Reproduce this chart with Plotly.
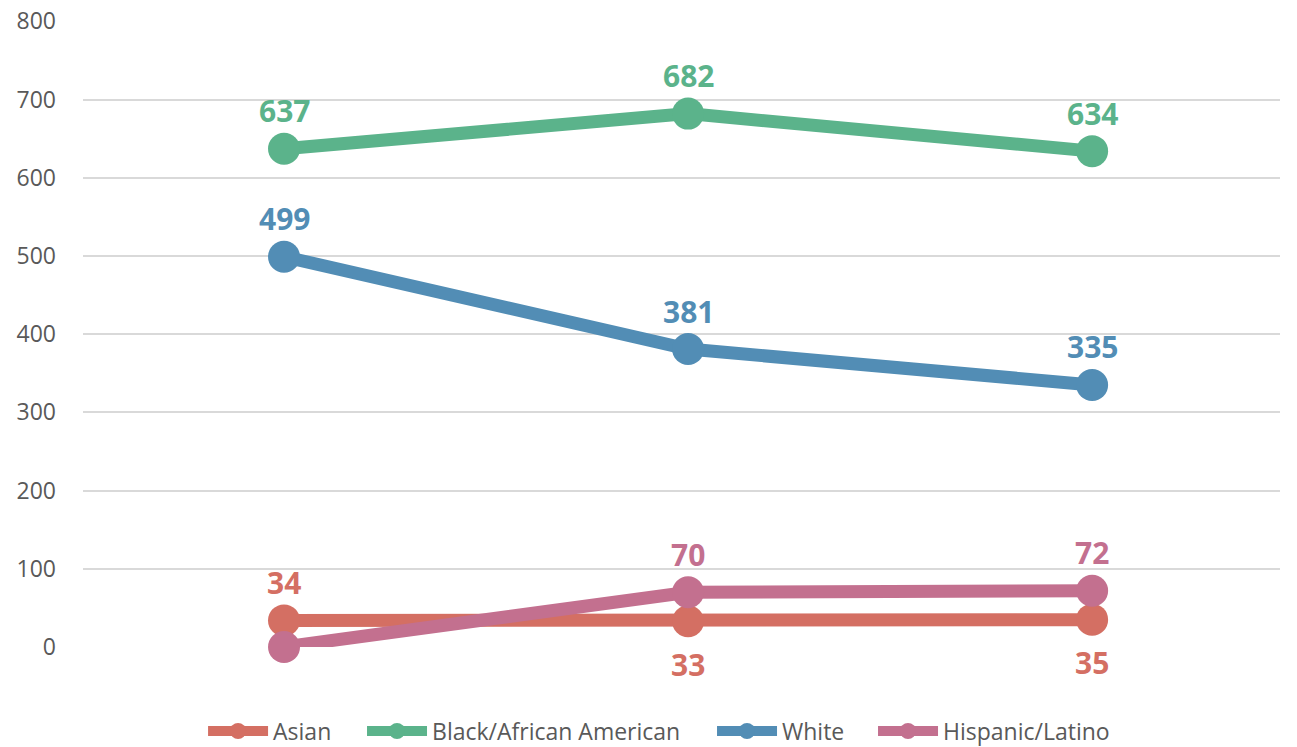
import plotly.graph_objects as go

categories = ["A", "B", "C"]
asian = [34, 33, 35]
black = [637, 682, 634]
white = [499, 381, 335]
hispanic = [0, 70, 72]
hispanic_labels = ["", "70", "72"]

series = [
    ("Asian", asian, "#D46F63", [str(v) for v in asian], ["top", "bottom", "bottom"]),
    ("Black/African American", black, "#5BB38B", [str(v) for v in black], ["top"] * 3),
    ("White", white, "#528DB5", [str(v) for v in white], ["top"] * 3),
    ("Hispanic/Latino", hispanic, "#C3708F", hispanic_labels, ["top"] * 3),
]
legend_ids = ["legend", "legend2", "legend3", "legend4"]
legend_x = [0.1003, 0.2331, 0.5255, 0.6600]

fig = go.Figure()
xs = [0, 1, 2]
for (name, vals, color, labels, pos), lid in zip(series, legend_ids):
    fig.add_trace(go.Scatter(
        x=xs, y=vals, name=name, mode="lines+markers",
        line=dict(color=color, width=13),
        marker=dict(color=color, size=32),
        cliponaxis=False, legend=lid,
    ))
    for xv, yv, lab, p in zip(xs, vals, labels, pos):
        if not lab:
            continue
        fig.add_annotation(
            x=xv, y=yv, text=lab, showarrow=False,
            yshift=38 if p == "top" else -43,
            font=dict(family="Open Sans", size=30, color=color, weight="bold"),
        )

legend_style = dict(orientation="h", xanchor="left", y=-0.1325, yanchor="middle",
                    font=dict(size=23, color="#595959"), itemwidth=60,
                    bgcolor="rgba(0,0,0,0)")
layout_legends = {lid: dict(x=lx, **legend_style) for lid, lx in zip(legend_ids, legend_x)}

fig.update_layout(
    width=1297, height=763,
    margin=dict(l=83, r=17, t=21, b=115),
    plot_bgcolor="white", paper_bgcolor="white",
    font=dict(family="Open Sans", color="#595959"),
    showlegend=True,
    xaxis=dict(range=[-0.4975, 2.465], showticklabels=False, showgrid=False, zeroline=False,
               tickvals=[0, 1, 2], ticktext=categories, automargin=False),
    yaxis=dict(range=[0, 800.4], tickvals=[0, 100, 200, 300, 400, 500, 600, 700, 800],
               showgrid=True, gridcolor="#D9D9D9", gridwidth=2,
               zeroline=False, tickfont=dict(size=23, color="#595959"), ticks="",
               ticklabelstandoff=26, automargin=False, ticklabeloverflow="allow"),
    **layout_legends,
)
fig.write_html(
    "out.html",
    config={"displayModeBar": False},
    post_script="document.body.style.margin='0';document.body.style.overflow='hidden';",
)
